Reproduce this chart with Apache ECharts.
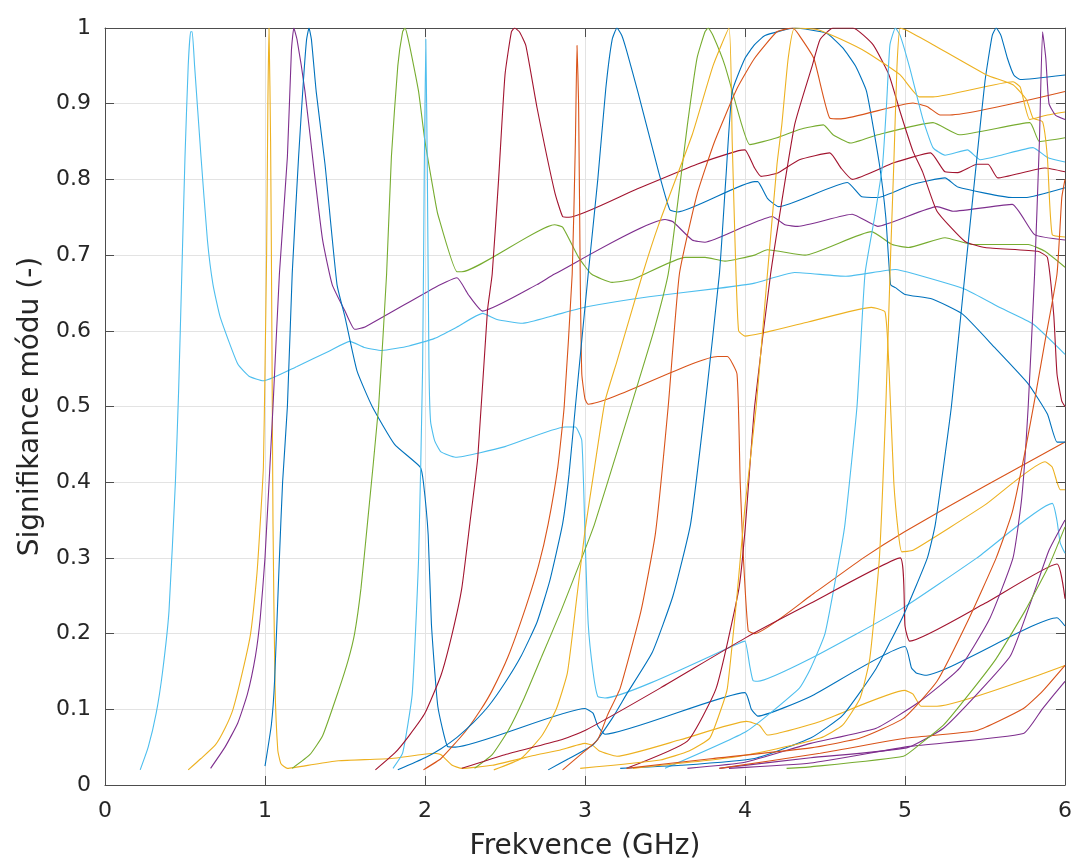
<!DOCTYPE html>
<html>
<head>
<meta charset="utf-8">
<script src="https://cdn.jsdelivr.net/npm/echarts@6/dist/echarts.min.js"></script>
<style>
html,body{margin:0;padding:0;background:#fff;}
#chart{width:1078px;height:866px;}
</style>
</head>
<body>
<div id="chart"></div>
<script>
// Axis ticks
const xTicks = [0, 1, 2, 3, 4, 5, 6];
const yTicks = [0, 0.1, 0.2, 0.3, 0.4, 0.5, 0.6, 0.7, 0.8, 0.9, 1];
const xTitle = 'Frekvence (GHz)';
const yTitle = 'Signifikance módu (-)';

// Curves: [frequency GHz, modal significance]
const cyan1 = [[0.22,0.02],[0.27,0.05],[0.32,0.095],[0.36,0.15],[0.4,0.23],[0.44,0.4],[0.46,0.52],[0.48,0.675],[0.5,0.83],[0.52,0.95],[0.535,0.995],[0.545,0.995],[0.56,0.95],[0.6,0.83],[0.64,0.72],[0.675,0.661],[0.72,0.618],[0.83,0.556],[0.9,0.54],[0.99,0.534],[1.2,0.553],[1.4,0.573],[1.53,0.586],[1.62,0.578],[1.73,0.574],[1.9,0.58],[2.06,0.59],[2.2,0.605],[2.36,0.623],[2.45,0.615],[2.61,0.61],[2.8,0.62],[3.02,0.632],[3.4,0.645],[3.83,0.656],[4.06,0.663],[4.31,0.677],[4.63,0.672],[4.94,0.681],[5.06,0.675],[5.375,0.655],[5.6,0.63],[5.8,0.609],[6.0,0.569]];
const yellow1 = [[0.52,0.02],[0.6,0.035],[0.69,0.053],[0.75,0.075],[0.8,0.1],[0.86,0.15],[0.91,0.2],[0.95,0.28],[0.97,0.345],[0.99,0.42],[1.0,0.55],[1.01,0.7],[1.018,0.9],[1.025,1.0],[1.035,0.85],[1.043,0.6],[1.05,0.345],[1.0625,0.134],[1.08,0.046],[1.1,0.028],[1.14,0.022],[1.3,0.027],[1.46,0.032],[1.79,0.035],[2.06,0.042],[2.1,0.04],[2.17,0.026],[2.23,0.022],[2.42,0.026],[2.7,0.04],[2.84,0.046],[3.0,0.055],[3.05,0.052],[3.09,0.045],[3.2,0.038],[3.6,0.06],[4.01,0.084],[4.09,0.079],[4.14,0.066],[4.47,0.084],[5.0,0.125],[5.05,0.12],[5.1,0.104],[5.2,0.104],[6,0.158]];
const purple1 = [[0.66,0.022],[0.75,0.05],[0.83,0.082],[0.89,0.12],[0.94,0.17],[0.97,0.22],[1.0,0.3],[1.05,0.5],[1.09,0.675],[1.14,0.83],[1.165,0.97],[1.18,1.0],[1.2,0.985],[1.25,0.916],[1.31,0.806],[1.36,0.72],[1.42,0.661],[1.5,0.626],[1.56,0.602],[1.625,0.605],[2.06,0.657],[2.2,0.67],[2.27,0.648],[2.36,0.626],[2.7,0.661],[2.81,0.675],[3.5,0.747],[3.55,0.744],[3.67,0.72],[3.75,0.717],[4.0,0.738],[4.17,0.751],[4.25,0.74],[4.33,0.738],[4.67,0.754],[4.83,0.738],[5.2,0.764],[5.3,0.758],[5.67,0.767],[5.81,0.727],[6,0.72]];
const blue1 = [[1.0,0.025],[1.04,0.08],[1.06,0.138],[1.09,0.3],[1.11,0.4],[1.14,0.5],[1.17,0.675],[1.21,0.83],[1.24,0.93],[1.26,0.985],[1.275,1.0],[1.29,0.985],[1.32,0.916],[1.375,0.82],[1.45,0.661],[1.5,0.618],[1.575,0.547],[1.67,0.5],[1.81,0.45],[1.97,0.42],[1.99,0.4],[2.02,0.33],[2.04,0.213],[2.08,0.104],[2.14,0.051],[2.19,0.05],[3.0,0.101],[3.05,0.095],[3.08,0.078],[3.125,0.067],[4.0,0.122],[4.04,0.1],[4.08,0.091],[4.41,0.117],[5.0,0.183],[5.04,0.155],[5.07,0.148],[5.125,0.145],[5.95,0.221],[6,0.21]];
const green1 = [[1.17,0.022],[1.28,0.04],[1.36,0.065],[1.46,0.125],[1.52,0.165],[1.56,0.2],[1.6,0.26],[1.64,0.345],[1.71,0.5],[1.76,0.675],[1.79,0.83],[1.83,0.95],[1.86,0.995],[1.875,1.0],[1.89,0.99],[1.92,0.96],[1.96,0.916],[2.0,0.85],[2.06,0.776],[2.08,0.754],[2.2,0.678],[2.23,0.678],[2.81,0.74],[2.86,0.737],[2.96,0.697],[3.04,0.675],[3.17,0.664],[3.3,0.668],[3.625,0.697],[3.75,0.697],[3.875,0.692],[4.06,0.7],[4.14,0.707],[4.375,0.7],[4.79,0.731],[4.92,0.714],[5.02,0.71],[5.25,0.723],[5.42,0.714],[5.77,0.714],[5.875,0.705],[6,0.684]];
const cyan2 = [[1.8,0.022],[1.86,0.042],[1.92,0.12],[1.96,0.3],[1.985,0.55],[1.995,0.8],[2.005,0.985],[2.015,0.8],[2.025,0.55],[2.035,0.48],[2.06,0.455],[2.1,0.44],[2.19,0.433],[2.5,0.447],[2.875,0.473],[2.94,0.473],[2.98,0.455],[3.0,0.33],[3.02,0.213],[3.05,0.15],[3.08,0.117],[3.125,0.115],[3.96,0.187],[4.0,0.19],[4.03,0.157],[4.05,0.138],[4.08,0.137],[4.41,0.167],[4.98,0.233],[5.45,0.3],[5.92,0.372],[5.95,0.349],[5.97,0.32],[6,0.306]];
const red1 = [[1.69,0.02],[1.81,0.042],[1.9,0.065],[2.0,0.095],[2.1,0.145],[2.17,0.2],[2.23,0.26],[2.28,0.345],[2.33,0.433],[2.39,0.626],[2.42,0.675],[2.46,0.8],[2.5,0.938],[2.54,0.995],[2.56,1.0],[2.59,0.995],[2.63,0.977],[2.7,0.895],[2.81,0.784],[2.86,0.751],[2.9,0.75],[3.3,0.785],[3.7,0.82],[3.96,0.838],[4.0,0.839],[4.06,0.815],[4.1,0.804],[4.2,0.808],[4.34,0.826],[4.53,0.835],[4.6,0.815],[4.67,0.8],[4.93,0.822],[5.16,0.835],[5.25,0.81],[5.33,0.809],[5.45,0.82],[5.52,0.82],[5.58,0.802],[5.875,0.815],[6,0.81]];
const orange1 = [[1.99,0.02],[2.1,0.035],[2.25,0.07],[2.35,0.1],[2.42,0.125],[2.52,0.17],[2.63,0.235],[2.71,0.29],[2.77,0.345],[2.83,0.42],[2.87,0.5],[2.92,0.675],[2.94,0.85],[2.95,0.977],[2.96,0.9],[2.97,0.675],[2.98,0.543],[3.0,0.51],[3.02,0.503],[3.83,0.566],[3.89,0.566],[3.95,0.543],[3.97,0.4],[3.99,0.3],[4.02,0.204],[4.06,0.2],[4.41,0.25],[4.74,0.3],[5.0,0.335],[5.5,0.395],[6,0.453]];
const blue2 = [[1.83,0.02],[2.0,0.036],[2.1,0.048],[2.2,0.063],[2.3,0.082],[2.4,0.105],[2.5,0.135],[2.6,0.17],[2.7,0.215],[2.78,0.27],[2.86,0.345],[2.9,0.41],[2.94,0.5],[3.02,0.675],[3.08,0.8],[3.13,0.92],[3.17,0.985],[3.2,1.0],[3.23,0.99],[3.26,0.97],[3.33,0.916],[3.46,0.81],[3.53,0.76],[3.58,0.757],[4.06,0.797],[4.08,0.797],[4.14,0.775],[4.21,0.764],[4.64,0.796],[4.73,0.777],[4.83,0.776],[5.04,0.793],[5.25,0.802],[5.33,0.79],[5.67,0.776],[5.75,0.776],[6,0.789]];
const green2 = [[2.31,0.022],[2.42,0.04],[2.52,0.072],[2.62,0.115],[2.73,0.17],[2.85,0.23],[2.98,0.3],[3.06,0.345],[3.2,0.44],[3.33,0.53],[3.43,0.6],[3.52,0.675],[3.58,0.77],[3.64,0.872],[3.7,0.96],[3.75,0.995],[3.77,1.0],[3.8,0.99],[3.875,0.95],[3.98,0.872],[4.03,0.846],[4.2,0.855],[4.34,0.866],[4.49,0.872],[4.55,0.859],[4.66,0.848],[4.83,0.859],[5.175,0.875],[5.34,0.859],[5.78,0.875],[5.84,0.85],[6,0.855]];
const yellow2 = [[2.43,0.02],[2.6,0.035],[2.73,0.065],[2.82,0.1],[2.89,0.148],[2.95,0.25],[3.0,0.336],[3.06,0.42],[3.125,0.507],[3.2,0.56],[3.36,0.675],[3.46,0.74],[3.67,0.859],[3.8,0.95],[3.9,1.0],[3.92,0.85],[3.94,0.7],[3.96,0.6],[4.0,0.593],[4.4,0.612],[4.79,0.631],[4.875,0.625],[4.9,0.55],[4.93,0.4],[4.96,0.33],[4.98,0.308],[5.05,0.31],[5.5,0.37],[5.875,0.427],[5.92,0.42],[5.95,0.4],[5.97,0.39],[6,0.39]];
const blue3 = [[2.77,0.02],[2.9,0.035],[3.05,0.053],[3.17,0.088],[3.26,0.12],[3.42,0.175],[3.55,0.25],[3.66,0.345],[3.75,0.5],[3.84,0.675],[3.88,0.8],[3.92,0.916],[4.0,0.96],[4.06,0.978],[4.125,0.99],[4.31,1.0],[4.51,0.993],[4.61,0.974],[4.69,0.95],[4.76,0.916],[4.84,0.82],[4.88,0.75],[4.91,0.661],[4.94,0.657],[5.0,0.648],[5.17,0.642],[5.36,0.622],[5.56,0.578],[5.77,0.53],[5.89,0.49],[5.95,0.453],[6,0.453]];
const orange2 = [[2.86,0.02],[3.0,0.045],[3.08,0.06],[3.14,0.092],[3.22,0.128],[3.35,0.23],[3.44,0.332],[3.52,0.5],[3.59,0.675],[3.7,0.78],[3.81,0.85],[3.95,0.92],[4.06,0.96],[4.2,0.995],[4.3,1.0],[4.34,0.99],[4.43,0.96],[4.53,0.881],[4.6,0.88],[5.05,0.901],[5.14,0.896],[5.22,0.885],[5.28,0.885],[6,0.916]];
const red2 = [[3.26,0.022],[3.64,0.058],[3.82,0.128],[3.96,0.257],[4.0,0.336],[4.06,0.5],[4.16,0.675],[4.31,0.872],[4.42,0.95],[4.47,0.985],[4.55,1.0],[4.675,1.0],[4.8,0.978],[4.9,0.938],[4.97,0.889],[5.05,0.837],[5.11,0.81],[5.2,0.758],[5.375,0.718],[5.5,0.71],[5.83,0.705],[5.89,0.697],[5.93,0.62],[5.95,0.543],[5.98,0.507],[6,0.5]];
const yellow3 = [[2.97,0.022],[3.47,0.033],[3.65,0.045],[3.78,0.062],[3.85,0.1],[3.89,0.128],[3.95,0.25],[4.0,0.368],[4.07,0.5],[4.14,0.675],[4.2,0.82],[4.23,0.872],[4.27,0.96],[4.31,1.0],[4.45,0.998],[4.6,0.985],[4.76,0.968],[4.97,0.938],[5.09,0.909],[5.175,0.909],[5.675,0.929],[5.72,0.922],[5.78,0.879],[5.89,0.885],[6,0.889]];
const cyan3 = [[3.5,0.022],[4.01,0.071],[4.34,0.128],[4.41,0.154],[4.5,0.2],[4.59,0.3],[4.625,0.345],[4.7,0.5],[4.75,0.675],[4.81,0.75],[4.86,0.82],[4.885,0.9],[4.906,0.978],[4.94,1.0],[4.97,0.99],[5.03,0.947],[5.11,0.881],[5.175,0.842],[5.25,0.832],[5.39,0.839],[5.47,0.826],[5.6,0.832],[5.8,0.842],[5.89,0.829],[6,0.823]];
const red3 = [[2.23,0.022],[2.5,0.04],[2.84,0.059],[3.0,0.072],[3.47,0.128],[4.0,0.194],[4.41,0.24],[4.97,0.3],[5.0,0.21],[5.03,0.19],[5.5,0.24],[5.95,0.292],[6,0.246]];
const blue4 = [[3.22,0.022],[3.6,0.026],[4.06,0.035],[4.41,0.062],[4.61,0.092],[4.82,0.154],[4.99,0.224],[5.14,0.3],[5.19,0.345],[5.29,0.5],[5.375,0.675],[5.45,0.83],[5.5,0.93],[5.545,0.99],[5.57,1.0],[5.6,0.99],[5.64,0.96],[5.68,0.938],[5.72,0.932],[6,0.938]];
const yellow4 = [[3.3,0.022],[3.9,0.036],[4.2,0.048],[4.47,0.062],[4.61,0.079],[4.72,0.115],[4.78,0.167],[4.84,0.3],[4.88,0.5],[4.91,0.7],[4.93,0.82],[4.95,0.95],[4.97,1.0],[5.01,0.997],[5.175,0.978],[5.51,0.938],[5.675,0.925],[5.76,0.905],[5.8,0.881],[5.86,0.876],[5.89,0.829],[5.92,0.727],[6,0.724]];
const purple2 = [[3.64,0.022],[4.0,0.03],[4.41,0.055],[4.82,0.075],[5.09,0.11],[5.34,0.154],[5.53,0.22],[5.675,0.3],[5.73,0.38],[5.77,0.5],[5.81,0.675],[5.84,0.85],[5.86,0.995],[5.88,0.96],[5.9,0.9],[5.94,0.885],[6,0.879]];
const purple3 = [[3.84,0.022],[4.41,0.036],[5.01,0.049],[5.24,0.075],[5.45,0.12],[5.66,0.171],[5.8,0.25],[5.9,0.31],[6,0.35]];
const purple4 = [[3.9,0.022],[4.41,0.029],[5.03,0.051],[5.74,0.068],[5.86,0.101],[6,0.137]];
const orange3 = [[3.26,0.022],[3.8,0.035],[4.41,0.049],[4.72,0.062],[4.99,0.088],[5.2,0.137],[5.4,0.22],[5.57,0.3],[5.67,0.36],[5.75,0.44],[5.82,0.52],[5.875,0.586],[5.95,0.675],[5.98,0.776],[6,0.8]];
const orange4 = [[3.84,0.022],[4.47,0.042],[5.01,0.062],[5.45,0.072],[5.74,0.101],[5.86,0.124],[6,0.158]];
const green3 = [[4.26,0.022],[4.41,0.024],[4.99,0.038],[5.1,0.055],[5.24,0.079],[5.4,0.12],[5.57,0.167],[5.75,0.23],[5.9,0.29],[6,0.341]];

const C = {blue:'#0072BD', orange:'#D95319', yellow:'#EDB120', purple:'#7E2F8E', green:'#77AC30', cyan:'#4DBEEE', red:'#A2142F'};
const curves = [
  [cyan1,C.cyan],[yellow1,C.yellow],[purple1,C.purple],[blue1,C.blue],[green1,C.green],
  [cyan2,C.cyan],[red1,C.red],[orange1,C.orange],[blue2,C.blue],[green2,C.green],
  [yellow2,C.yellow],[blue3,C.blue],[orange2,C.orange],[red2,C.red],[yellow3,C.yellow],
  [cyan3,C.cyan],[red3,C.red],[blue4,C.blue],[yellow4,C.yellow],[purple2,C.purple],
  [purple3,C.purple],[purple4,C.purple],[orange3,C.orange],[orange4,C.orange],[green3,C.green]
];

const FONT = 'DejaVu Sans';
const TXT = '#262626';
const chart = echarts.init(document.getElementById('chart'), null, {renderer:'canvas'});
const baseAxisX = {
  type:'value', min:xTicks[0], max:xTicks[xTicks.length-1], interval:1,
};
const baseAxisY = {
  type:'value', min:yTicks[0], max:yTicks[yTicks.length-1], interval:0.1,
};
chart.setOption({
  animation:false,
  backgroundColor:'#fff',
  grid:{left:105, right:13, top:28, bottom:79, containLabel:false},
  xAxis:[
    Object.assign({}, baseAxisX, {
      position:'bottom',
      name:xTitle, nameLocation:'middle', nameGap:48,
      nameTextStyle:{fontFamily:FONT, fontSize:28, color:TXT},
      axisLine:{show:true, onZero:false, lineStyle:{color:'#4d4d4d', width:1}},
      axisTick:{show:true, inside:true, length:9, lineStyle:{color:'#4d4d4d'}},
      axisLabel:{fontFamily:FONT, fontSize:22, color:TXT, margin:15},
      splitLine:{show:true, lineStyle:{color:'#e3e3e3', width:1}}
    }),
    Object.assign({}, baseAxisX, {
      position:'top',
      axisLine:{show:true, onZero:false, lineStyle:{color:'#4d4d4d', width:1}},
      axisTick:{show:true, inside:true, length:9, lineStyle:{color:'#4d4d4d'}},
      axisLabel:{show:false}, splitLine:{show:false}
    })
  ],
  yAxis:[
    Object.assign({}, baseAxisY, {
      position:'left',
      name:yTitle, nameLocation:'middle', nameGap:60, nameRotate:90,
      nameTextStyle:{fontFamily:FONT, fontSize:28, color:TXT},
      axisLine:{show:true, onZero:false, lineStyle:{color:'#4d4d4d', width:1}},
      axisTick:{show:true, inside:true, length:9, lineStyle:{color:'#4d4d4d'}},
      axisLabel:{fontFamily:FONT, fontSize:22, color:TXT, margin:14},
      splitLine:{show:true, lineStyle:{color:'#e3e3e3', width:1}}
    }),
    Object.assign({}, baseAxisY, {
      position:'right',
      axisLine:{show:true, onZero:false, lineStyle:{color:'#4d4d4d', width:1}},
      axisTick:{show:true, inside:true, length:9, lineStyle:{color:'#4d4d4d'}},
      axisLabel:{show:false}, splitLine:{show:false}
    })
  ],
  series: curves.map(([d,col]) => ({
    type:'line', data:d, xAxisIndex:0, yAxisIndex:0,
    showSymbol:false, symbol:'none', smooth:0.15, clip:true,
    lineStyle:{color:col, width:1.1}, itemStyle:{color:col},
    emphasis:{disabled:true}, silent:true
  }))
});
</script>
</body>
</html>
